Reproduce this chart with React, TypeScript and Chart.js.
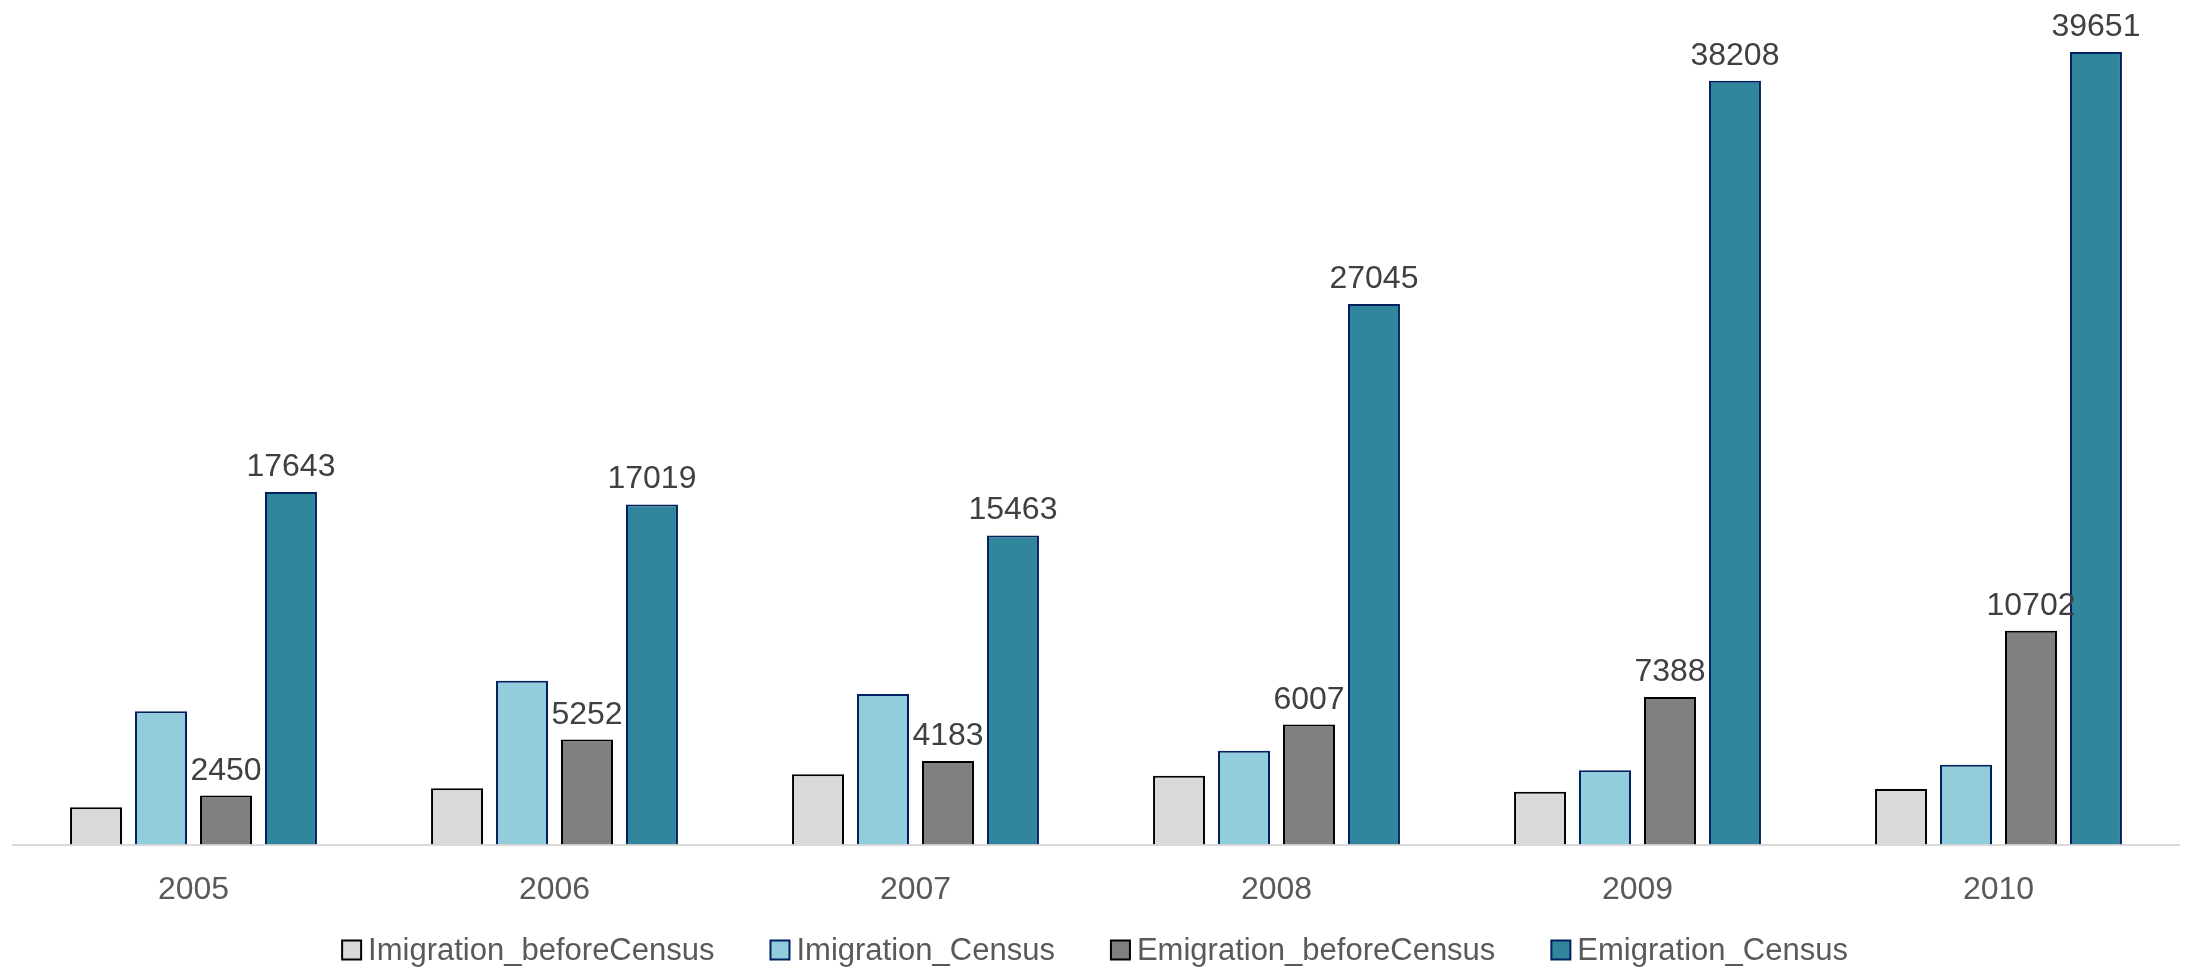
import React, { useEffect, useRef } from "react";
import { Chart, registerables } from "chart.js";

Chart.register(...registerables);

const categories = ["2005", "2006", "2007", "2008", "2009", "2010"];
const imigrationBeforeCensus = [1865, 2815, 3520, 3450, 2650, 2780];
const imigrationCensus = [6665, 8200, 7540, 4690, 3720, 4000];
const emigrationBeforeCensus = [2450, 5252, 4183, 6007, 7388, 10702];
const emigrationCensus = [17643, 17019, 15463, 27045, 38208, 39651];
const yMax = 40000;

const FONT = '"Liberation Sans", Arial, sans-serif';

const labelPlugin = {
  id: "valueLabels",
  afterDatasetsDraw(chart: any) {
    const ctx = chart.ctx;
    ctx.save();
    ctx.font = `32px ${FONT}`;
    ctx.fillStyle = "#404040";
    ctx.textAlign = "center";
    ctx.textBaseline = "alphabetic";
    [2, 3].forEach((di) => {
      const meta = chart.getDatasetMeta(di);
      const data = chart.data.datasets[di].data;
      meta.data.forEach((el: any, i: number) => {
        ctx.fillText(String(data[i]), el.x, el.y - 16);
      });
    });
    ctx.restore();
  },
};

const legendPlugin = {
  id: "customLegend",
  afterDraw(chart: any) {
    const ctx = chart.ctx;
    const ds = chart.data.datasets;
    const box = 19;
    const gapBoxText = 7;
    const gapItems = 56;
    const y = 950;
    ctx.save();
    ctx.font = `31px ${FONT}`;
    const widths = ds.map((d: any) => ctx.measureText(d.label).width);
    const total = widths.reduce((a: number, w: number) => a + box + gapBoxText + w, 0) + gapItems * (ds.length - 1);
    let x = (chart.width - total) / 2;
    ds.forEach((d: any, i: number) => {
      ctx.fillStyle = d.backgroundColor;
      ctx.fillRect(x, y - box / 2, box, box);
      ctx.lineWidth = 2;
      ctx.strokeStyle = d.borderColor;
      ctx.strokeRect(x, y - box / 2, box, box);
      ctx.fillStyle = "#595959";
      ctx.textAlign = "left";
      ctx.textBaseline = "middle";
      ctx.fillText(d.label, x + box + gapBoxText, y + 1);
      x += box + gapBoxText + widths[i] + gapItems;
    });
    ctx.restore();
  },
};

export default function App() {
  const ref = useRef<HTMLCanvasElement>(null);
  useEffect(() => {
    document.body.style.margin = "0";
    document.body.style.overflow = "hidden";
    const chart = new Chart(ref.current!, {
      type: "bar",
      data: {
        labels: categories,
        datasets: [
          { label: "Imigration_beforeCensus", data: imigrationBeforeCensus, backgroundColor: "#D9D9D9", borderColor: "#000000", borderWidth: 2 },
          { label: "Imigration_Census", data: imigrationCensus, backgroundColor: "#92CDDC", borderColor: "#002060", borderWidth: 2 },
          { label: "Emigration_beforeCensus", data: emigrationBeforeCensus, backgroundColor: "#808080", borderColor: "#000000", borderWidth: 2 },
          { label: "Emigration_Census", data: emigrationCensus, backgroundColor: "#31859C", borderColor: "#002060", borderWidth: 2 },
        ],
      },
      options: {
        animation: false,
        responsive: true,
        maintainAspectRatio: false,
        datasets: { bar: { categoryPercentage: 0.72, barPercentage: 0.8 } },
        layout: { padding: { top: 45, left: 13, right: 11, bottom: 41 } },
        scales: {
          x: {
            grid: { display: false },
            border: { display: true, color: "#D9D9D9", width: 2 },
            ticks: { color: "#595959", font: { family: FONT, size: 32 }, padding: 18 },
          },
          y: { display: false, min: 0, max: yMax },
        },
        plugins: {
          legend: { display: false },
          tooltip: { enabled: false },
        },
      },
      plugins: [labelPlugin, legendPlugin],
    });
    return () => chart.destroy();
  }, []);
  return (
    <div style={{ width: 2190, height: 968, position: "relative" }}>
      <canvas ref={ref} />
    </div>
  );
}
